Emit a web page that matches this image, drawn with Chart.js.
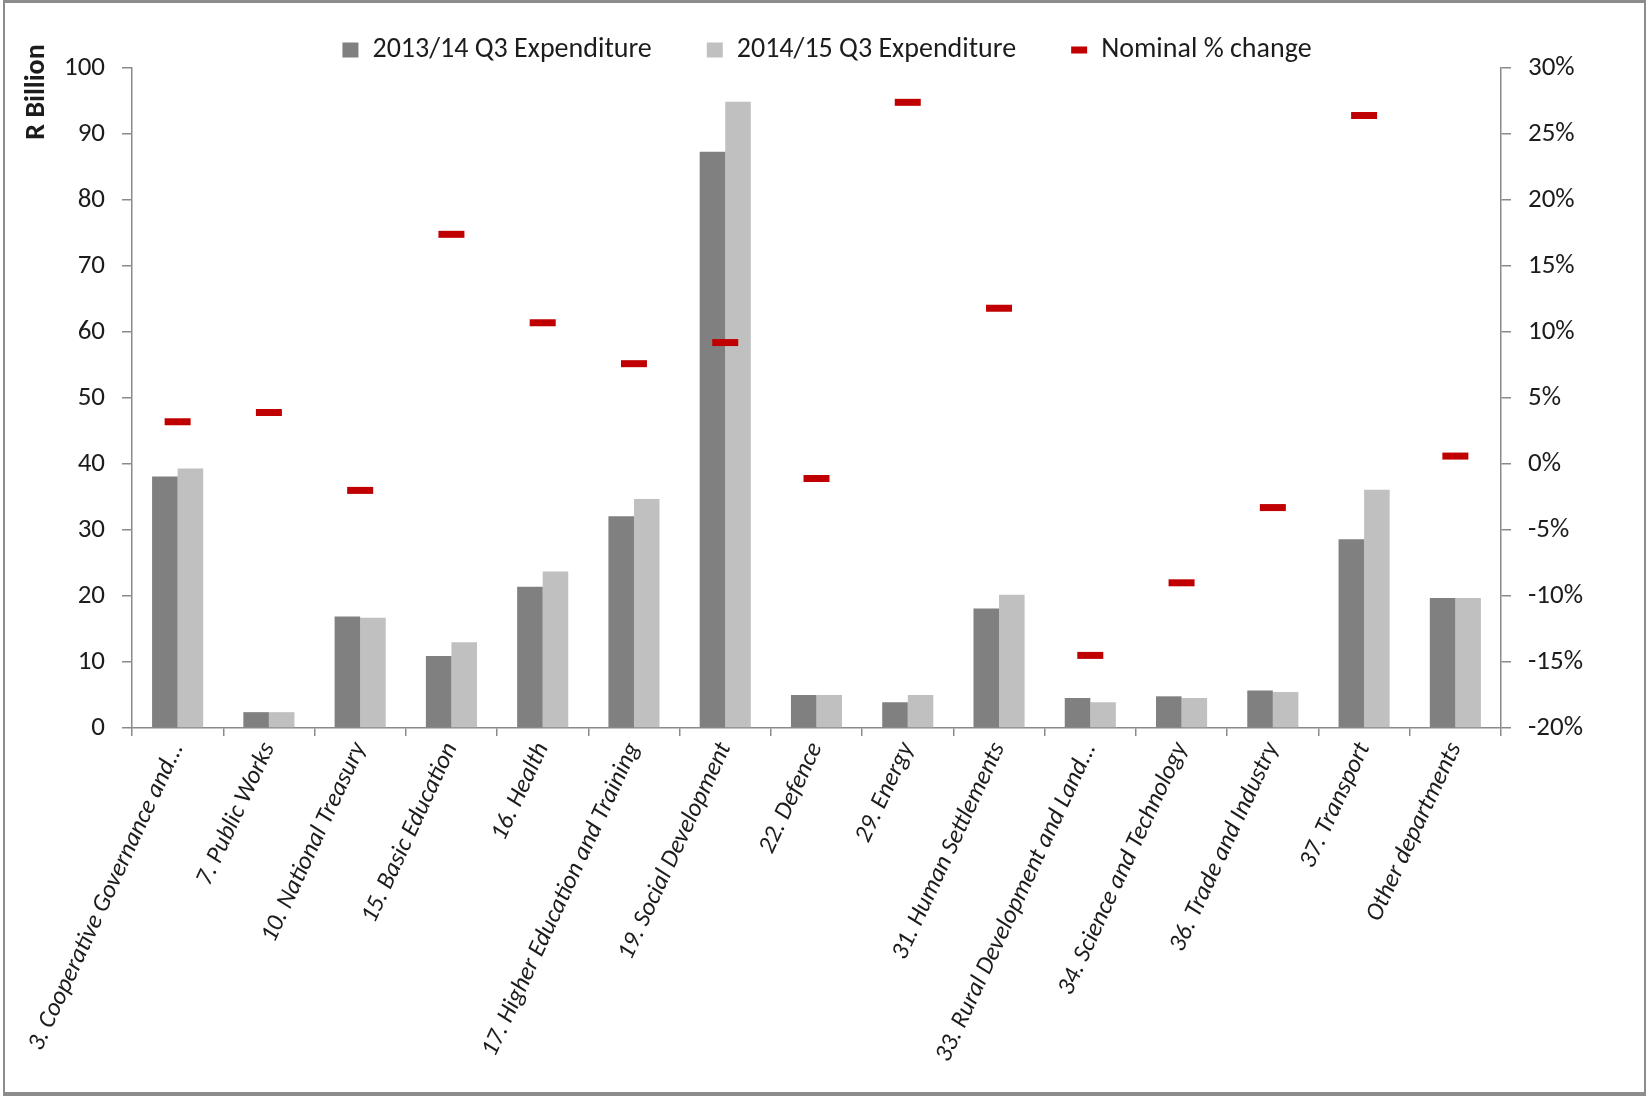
<!DOCTYPE html>
<html>
<head>
<meta charset="utf-8">
<title>Q3 Expenditure by Department</title>
<script src="https://cdn.jsdelivr.net/npm/chart.js@4.4.1/dist/chart.umd.min.js"></script>
<style>
  html, body { margin: 0; padding: 0; background: #fff; }
  #wrap { position: relative; width: 1646px; height: 1096px; }
  #frame {
    position: absolute; left: 3px; top: 0; right: 0; bottom: 0;
    border-top: 3px solid #8c8c8c; border-left: 2px solid #8c8c8c;
    border-bottom: 4px solid #8c8c8c; border-right: 2px solid #8c8c8c;
    pointer-events: none; box-sizing: border-box;
  }
  canvas { position: absolute; left: 0; top: 0; }
</style>
</head>
<body>
<div id="wrap">
  <canvas id="chart" width="1646" height="1096"></canvas>
  <div id="frame"></div>
</div>
<script>
// Departments (votes) on the category axis
const departments = [
  "3. Cooperative Governance and...",
  "7. Public Works",
  "10. National Treasury",
  "15. Basic Education",
  "16. Health",
  "17. Higher Education and Training",
  "19. Social Development",
  "22. Defence",
  "29. Energy",
  "31. Human Settlements",
  "33. Rural Development and Land...",
  "34. Science and Technology",
  "36. Trade and Industry",
  "37. Transport",
  "Other departments"
];

// Expenditure, R billion
const expenditure201314 = [38.1, 2.4, 16.9, 10.9, 21.4, 32.1, 87.3, 5.0, 3.9, 18.1, 4.55, 4.8, 5.7, 28.6, 19.7];
const expenditure201415 = [39.3, 2.4, 16.7, 13.0, 23.7, 34.7, 94.9, 5.0, 5.0, 20.2, 3.9, 4.55, 5.45, 36.1, 19.7];

// Nominal change between the two years, percent
const nominalChange = [3.2, 3.9, -2.0, 17.4, 10.7, 7.6, 9.2, -1.1, 27.4, 11.8, -14.5, -9.0, -3.3, 26.4, 0.6];

// Axis ranges and tick steps
const leftTicks = { min: 0, max: 100, step: 10 };
const rightTicks = { min: -20, max: 30, step: 5 };

const FONT = "Carlito, Lato, 'Liberation Sans', sans-serif";
const AXIS_GREY = "#8a8a8a";
const TEXT = "#1c1c1c";

// Rotated "R Billion" title sitting at the top of the left axis
const axisTitle = {
  id: "axisTitle",
  afterDraw(chart) {
    const ctx = chart.ctx;
    ctx.save();
    ctx.translate(37, 92);
    ctx.rotate(-Math.PI / 2);
    ctx.font = "bold 28px " + FONT;
    ctx.fillStyle = TEXT;
    ctx.textAlign = "center";
    ctx.textBaseline = "middle";
    ctx.fillText("R Billion", 0, 0);
    ctx.restore();
  }
};

// Keep the legend band compact so the plot starts right below it
const legendBand = {
  id: "legendBand",
  afterInit(chart) {
    const lg = chart.legend;
    if (!lg) return;
    const fit = lg.fit.bind(lg);
    lg.fit = function () { fit(); this.height -= 6; };
  }
};

new Chart(document.getElementById("chart"), {
  type: "bar",
  data: {
    labels: departments,
    datasets: [
      {
        label: "2013/14 Q3 Expenditure",
        data: expenditure201314,
        backgroundColor: "#808080",
        borderWidth: 0,
        pointStyle: "rect",
        yAxisID: "y",
        order: 1
      },
      {
        label: "2014/15 Q3 Expenditure",
        data: expenditure201415,
        backgroundColor: "#c0c0c0",
        borderWidth: 0,
        pointStyle: "rect",
        yAxisID: "y",
        order: 1
      },
      {
        type: "line",
        label: "Nominal % change",
        data: nominalChange,
        showLine: false,
        borderColor: "#c00000",
        backgroundColor: "#c00000",
        borderWidth: 5,
        pointStyle: "line",
        pointRadius: 13,
        pointHoverRadius: 13,
        pointBorderWidth: 7,
        pointBorderColor: "#c00000",
        yAxisID: "y1",
        order: 0
      }
    ]
  },
  options: {
    responsive: false,
    animation: false,
    events: [],
    layout: { padding: { top: -19, left: 8, right: 0, bottom: 0 } },
    datasets: {
      bar: { categoryPercentage: 0.56, barPercentage: 1.0 }
    },
    plugins: {
      tooltip: { enabled: false },
      legend: {
        position: "top",
        align: "center",
        labels: {
          usePointStyle: true,
          pointStyleWidth: 16,
          boxHeight: 15,
          padding: 55,
          color: TEXT,
          font: { family: FONT, size: 28 },
          sort: (a, b) => a.datasetIndex - b.datasetIndex
        }
      }
    },
    scales: {
      x: {
        offset: true,
        grid: {
          display: true,
          offset: true,
          drawOnChartArea: false,
          drawTicks: true,
          tickLength: 8,
          color: AXIS_GREY,
          lineWidth: 1.5
        },
        border: { display: true, color: AXIS_GREY, width: 1.5 },
        ticks: {
          autoSkip: false,
          minRotation: 65,
          maxRotation: 65,
          padding: 2,
          color: TEXT,
          font: { family: FONT, size: 25, style: "italic" }
        },
        afterFit(scale) { scale.height = 368; }
      },
      y: {
        position: "left",
        min: leftTicks.min,
        max: leftTicks.max,
        grid: {
          display: true,
          drawOnChartArea: false,
          drawTicks: true,
          tickLength: 10,
          color: AXIS_GREY,
          lineWidth: 1.5
        },
        border: { display: true, color: AXIS_GREY, width: 1.5 },
        ticks: {
          stepSize: leftTicks.step,
          padding: 17,
          color: TEXT,
          font: { family: FONT, size: 27 }
        },
        afterFit(scale) { scale.width = 124; }
      },
      y1: {
        position: "right",
        min: rightTicks.min,
        max: rightTicks.max,
        grid: {
          display: true,
          drawOnChartArea: false,
          drawTicks: true,
          tickLength: 10,
          color: AXIS_GREY,
          lineWidth: 1.5
        },
        border: { display: true, color: AXIS_GREY, width: 1.5 },
        ticks: {
          stepSize: rightTicks.step,
          padding: 17,
          color: TEXT,
          font: { family: FONT, size: 27 },
          callback: (v) => v + "%"
        },
        afterFit(scale) { scale.width = 145; }
      }
    }
  },
  plugins: [axisTitle, legendBand]
});
</script>
</body>
</html>
